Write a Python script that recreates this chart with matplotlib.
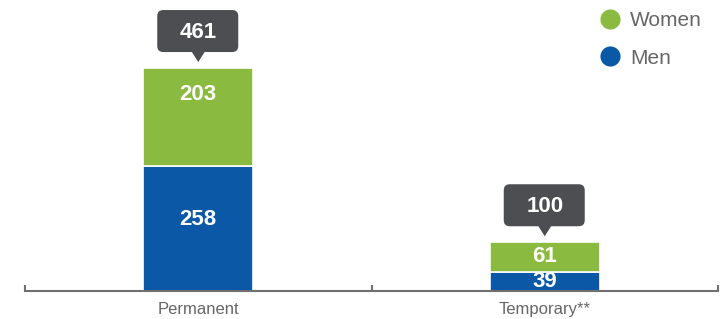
import matplotlib.pyplot as plt
import matplotlib.transforms as mtransforms
from matplotlib.patches import FancyBboxPatch, Polygon
from matplotlib.lines import Line2D

plt.rcParams['font.family'] = ['Liberation Sans', 'DejaVu Sans']

# data
categories = ['Permanent', 'Temporary**']
men = [258, 39]
women = [203, 61]
totals = [461, 100]

green = '#8aba3f'
blue = '#0a58a6'
callout = '#4d4e52'
grey = '#666666'

fig = plt.figure(figsize=(7.27, 3.19), dpi=100)
ax = fig.add_axes([25 / 727, 28.5 / 319, 693 / 727, 290.5 / 319])

x = list(range(len(categories)))
w = 0.318
ax.bar(x, men, width=w, color=blue, edgecolor='white', linewidth=1.2)
ax.bar(x, women, width=w, bottom=men, color=green, edgecolor='white', linewidth=1.2)

ax.set_xlim(-0.5, 1.5)
ax.set_ylim(0, 602)

# labels inside segments
for i in x:
    m_lab = men[i] - min(men[i] / 2, 110)
    ax.text(i, m_lab, str(men[i]), color='white', fontsize=16, fontweight='bold',
            ha='center', va='center')
    top = men[i] + women[i]
    w_lab = top - min(women[i] / 2, 54)
    ax.text(i, w_lab, str(women[i]), color='white', fontsize=16, fontweight='bold',
            ha='center', va='center')

# callouts with totals
for i in x:
    t = fig.dpi_scale_trans + mtransforms.ScaledTranslation(i, totals[i], ax.transData)
    bot = 0.16
    box = FancyBboxPatch((-0.41, bot), 0.81, 0.42,
                         boxstyle='round,pad=0,rounding_size=0.06',
                         transform=t, facecolor=callout, edgecolor='none',
                         clip_on=False)
    ax.add_patch(box)
    tri = Polygon([(-0.07, bot + 0.01), (0.07, bot + 0.01), (0, bot - 0.1)],
                  closed=True, transform=t, facecolor=callout, edgecolor='none',
                  clip_on=False)
    ax.add_patch(tri)
    ax.text(0, bot + 0.2, str(totals[i]), transform=t, color='white',
            fontsize=16, fontweight='bold', ha='center', va='center')

# axis styling
for s in ['top', 'left', 'right']:
    ax.spines[s].set_visible(False)
ax.spines['bottom'].set_color('#707070')
ax.spines['bottom'].set_linewidth(1.5)
ax.set_yticks([])
ax.set_xticks([-0.5, 0.5, 1.5])
ax.set_xticklabels([])
ax.tick_params(axis='x', which='major', direction='in', length=4, width=1.5,
               color='#707070')
ax.set_xticks(x, minor=True)
ax.set_xticklabels(categories, minor=True, fontsize=12, color=grey)
ax.tick_params(axis='x', which='minor', length=0, pad=8.5)

# legend
handles = [Line2D([], [], marker='o', linestyle='none', markersize=14.5,
                  markerfacecolor=green, markeredgecolor='none'),
           Line2D([], [], marker='o', linestyle='none', markersize=14.5,
                  markerfacecolor=blue, markeredgecolor='none')]
leg = fig.legend(handles, ['Women', 'Men'], loc='upper left',
                 bbox_to_anchor=(585 / 727, 1.005), frameon=False,
                 fontsize=15, labelcolor=grey, handletextpad=0.35,
                 labelspacing=0.9, handlelength=1.2, borderaxespad=0.2)

fig.savefig('out.png', dpi=100)
